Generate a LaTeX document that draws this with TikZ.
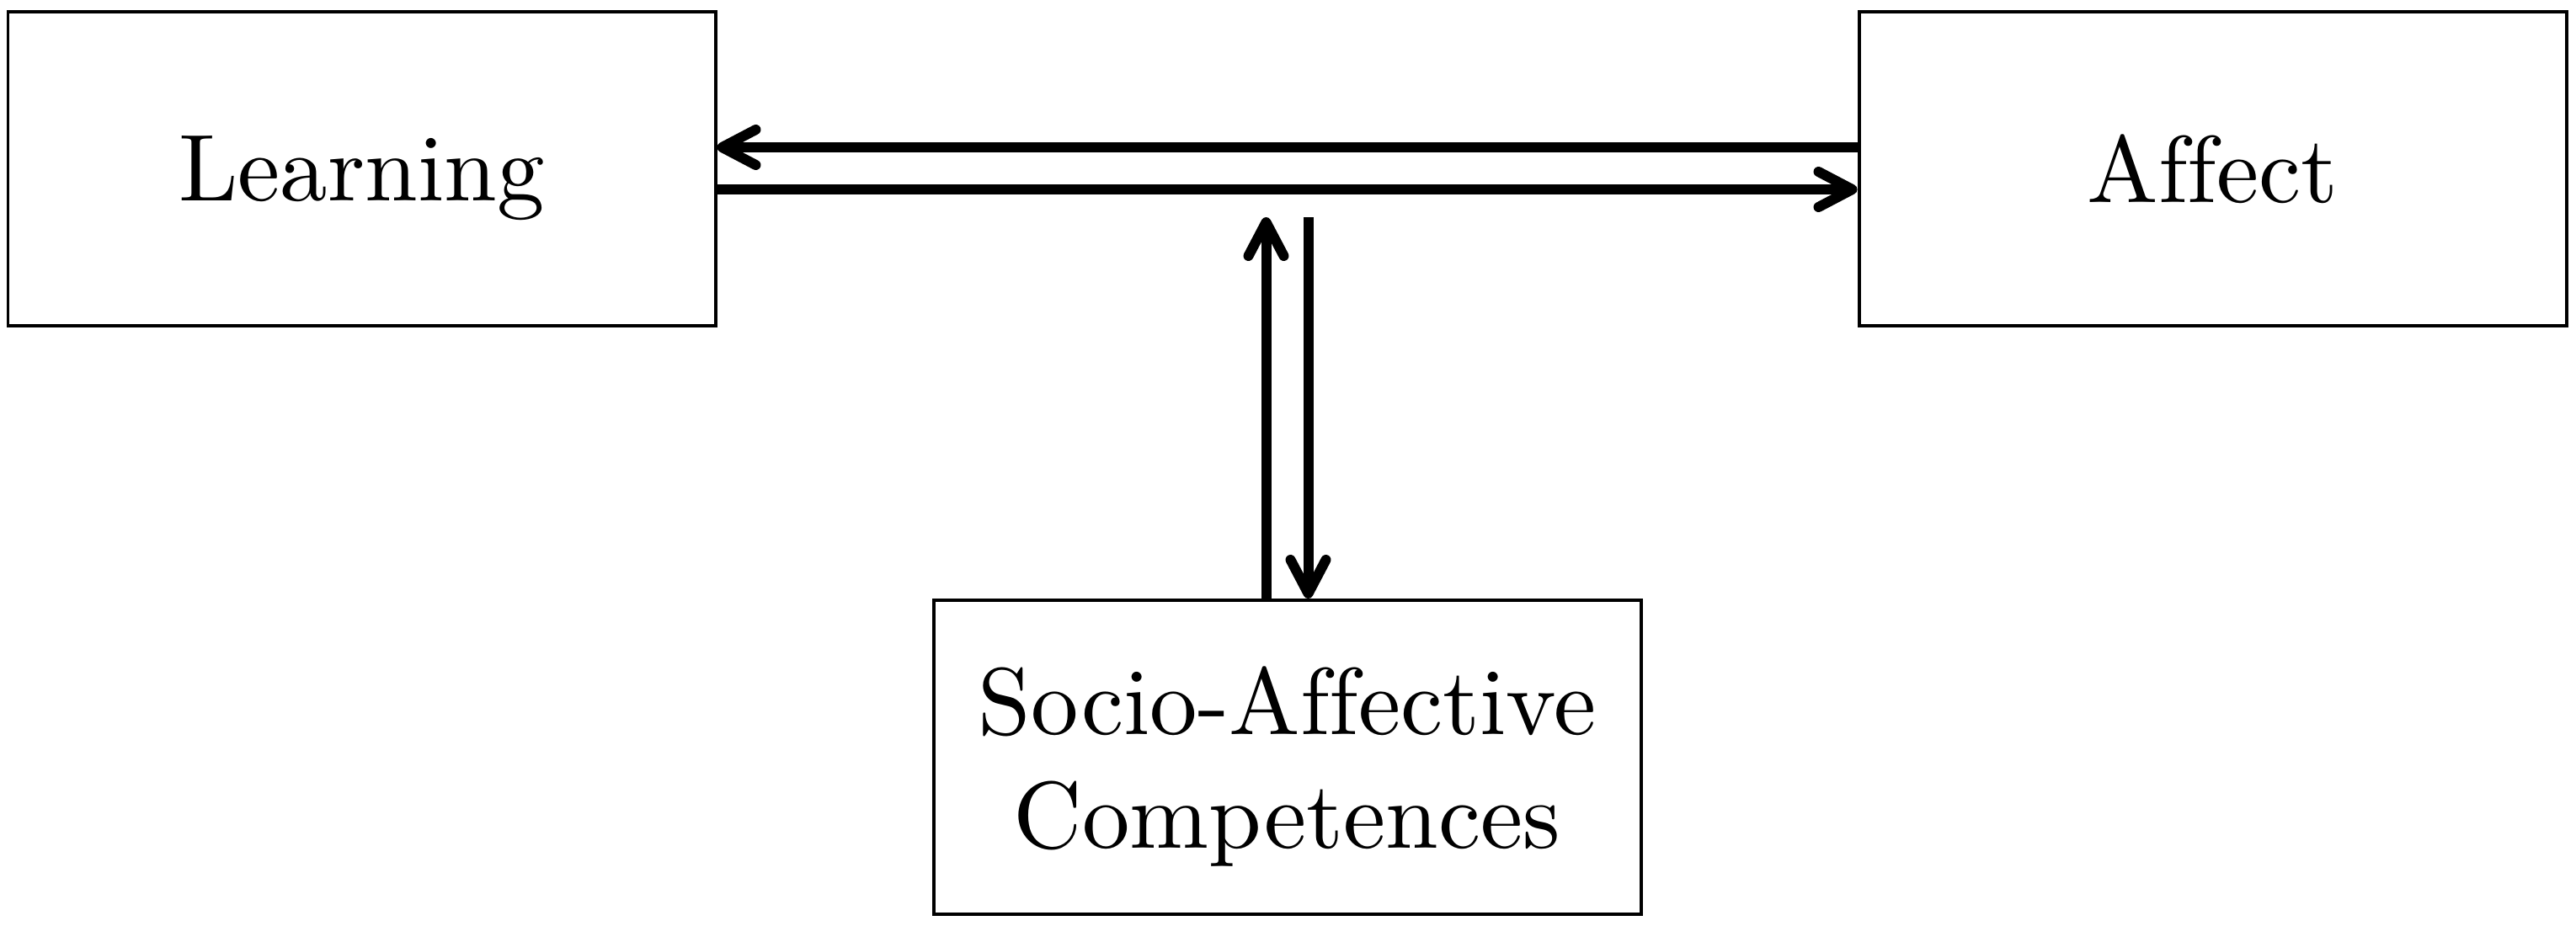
\documentclass[tikz,border=0pt]{standalone}
\usepackage{fontspec}
\newfontfamily\boxfont[Ligatures=NoCommon]{lmroman10-regular.otf}
\usetikzlibrary{arrows.meta,positioning}

\begin{document}
\begin{tikzpicture}[
		box/.style={draw, line width=0.04cm, minimum width=8.40cm, minimum height=3.73cm, align=center, text depth=0pt, font=\boxfont\fontsize{32.1}{38.2}\selectfont},
		arr/.style={line width=0.12cm, -{Straight Barb[length=0.4cm, width=0.42cm, round]}}
	]

			\useasboundingbox (0,0) rectangle (30.59,-10.99);

			\node [box] (learn) at (4.295,-2.00) {Learning};
			\node [box] (aff) at (26.275,-2.00) {Affect};
			\node [box] (soc) at (15.285,-8.995) {Socio-Affective\\Competences};

			\coordinate (mid) at (15.285,-2.58);

			\draw [arr] ([yshift=0.25cm]aff.west) -- ([yshift=0.25cm]learn.east);
			\draw [arr] ([yshift=-0.25cm]learn.east) -- ([yshift=-0.25cm]aff.west);

			\draw [arr] ([xshift=-0.25cm]soc.north) -- ([xshift=-0.25cm]mid);
			\draw [arr] ([xshift=0.25cm]mid) -- ([xshift=0.25cm]soc.north);
		\end{tikzpicture}
\end{document}
